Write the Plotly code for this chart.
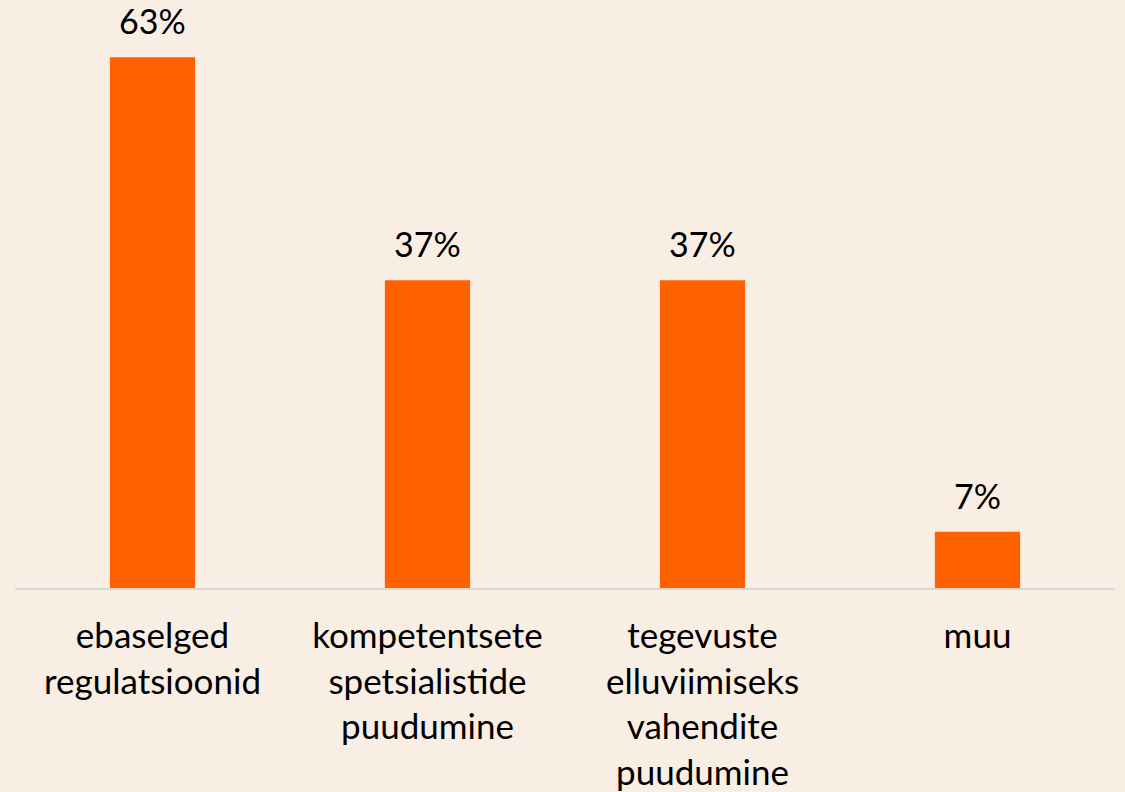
import plotly.graph_objects as go

# Survey categories (line breaks as shown under the axis)
categories = [
    "ebaselged<br>regulatsioonid",
    "kompetentsete<br>spetsialistide<br>puudumine",
    "tegevuste<br>elluviimiseks<br>vahendite<br>puudumine",
    "muu",
]
# Share of respondents, percent
shares = [63.3, 36.7, 36.7, 6.7]

BG = "#F9EEE4"
BAR = "#FF6000"
FONT = "Lato"

fig = go.Figure(
    go.Bar(
        x=categories,
        y=shares,
        marker=dict(color=BAR, line=dict(width=0)),
        width=0.31,
        hoverinfo="skip",
    )
)

# Value labels above each bar
for c, v in zip(categories, shares):
    fig.add_annotation(
        x=c, y=v, text=f"{v:.0f}%", showarrow=False,
        yanchor="bottom", yshift=14,
        font=dict(family=FONT, size=34, color="#000000"),
    )

fig.update_layout(
    width=1125, height=792,
    margin=dict(l=15, r=10, t=1, b=204),
    paper_bgcolor=BG, plot_bgcolor=BG,
    showlegend=False,
    font=dict(family=FONT, size=35, color="#000000"),
)
fig.update_xaxes(
    showgrid=False, showline=True, linecolor="#D9D9D9", linewidth=2,
    ticks="", tickfont=dict(family=FONT, size=35, color="#000000"),
    ticklabelstandoff=16,
)
fig.update_yaxes(
    range=[0, 70], showgrid=False, zeroline=False, showticklabels=False,
)

fig.write_html("out.html")
